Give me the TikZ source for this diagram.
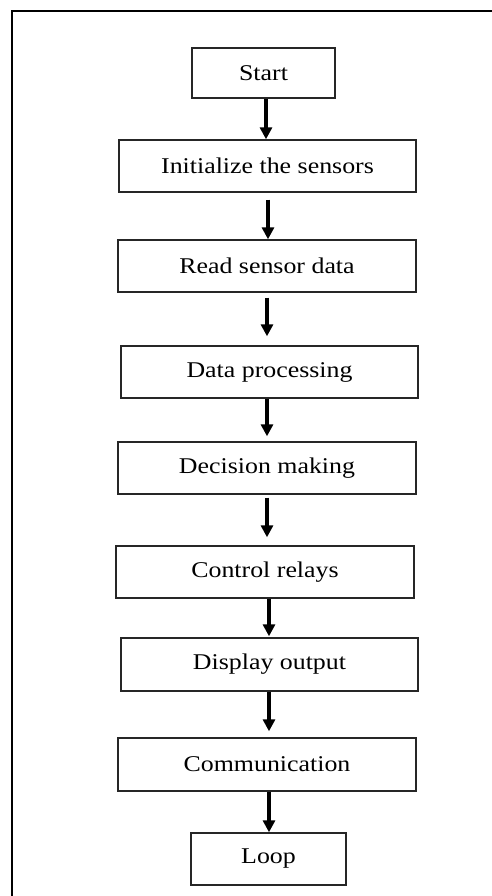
\documentclass[tikz,border=0pt]{standalone}
\usepackage{fontspec}
\setmainfont{Liberation Serif}[FakeStretch=1.15]
\usetikzlibrary{arrows.meta}
\begin{document}
\begin{tikzpicture}[x=1pt,y=-1pt,
  stepbox/.style={draw=black!85,line width=1.4pt,fill=white,inner sep=0pt,
    font=\fontsize{22.5}{26}\selectfont,anchor=center},
  arr/.style={line width=3.4pt,-{Triangle[length=12pt,width=12pt]}}]
\useasboundingbox (0,0) rectangle (492,896);
\fill[white] (0,0) rectangle (492,896);
\draw[line width=1.4pt] (12,900) -- (12,11) -- (496,11);
\node[stepbox,minimum width=143pt,minimum height=50pt] (start) at (263.5,73) {Start};
\node[stepbox,minimum width=297pt,minimum height=52pt] (init) at (267.5,166) {Initialize the sensors};
\node[stepbox,minimum width=298pt,minimum height=52pt] (read) at (267,266) {Read sensor data};
\node[stepbox,minimum width=297pt,minimum height=52pt] (proc) at (269.5,372) {Data processing};
\node[stepbox,minimum width=298pt,minimum height=52pt] (dec) at (267,468) {Decision making};
\node[stepbox,minimum width=298pt,minimum height=52pt] (ctrl) at (265,572) {Control relays};
\node[stepbox,minimum width=297pt,minimum height=53pt] (disp) at (269.5,664.5) {Display output};
\node[stepbox,minimum width=298pt,minimum height=53pt] (comm) at (267,764.5) {Communication};
\node[stepbox,minimum width=155pt,minimum height=52pt] (loop) at (268.5,859) {Loop};
\draw[arr] (start.south -| 266,0) -- (init.north -| 266,0);
\draw[arr,shorten <=7pt] (init.south -| 268,0) -- (read.north -| 268,0);
\draw[arr,shorten <=5pt,shorten >=9pt] (read.south -| 267,0) -- (proc.north -| 267,0);
\draw[arr,shorten >=5pt] (proc.south -| 267,0) -- (dec.north -| 267,0);
\draw[arr,shorten <=3pt,shorten >=8pt] (dec.south -| 267,0) -- (ctrl.north -| 267,0);
\draw[arr,shorten >=1pt] (ctrl.south -| 269,0) -- (disp.north -| 269,0);
\draw[arr,shorten >=6pt] (disp.south -| 269,0) -- (comm.north -| 269,0);
\draw[arr] (comm.south -| 269,0) -- (loop.north -| 269,0);
\end{tikzpicture}
\end{document}
